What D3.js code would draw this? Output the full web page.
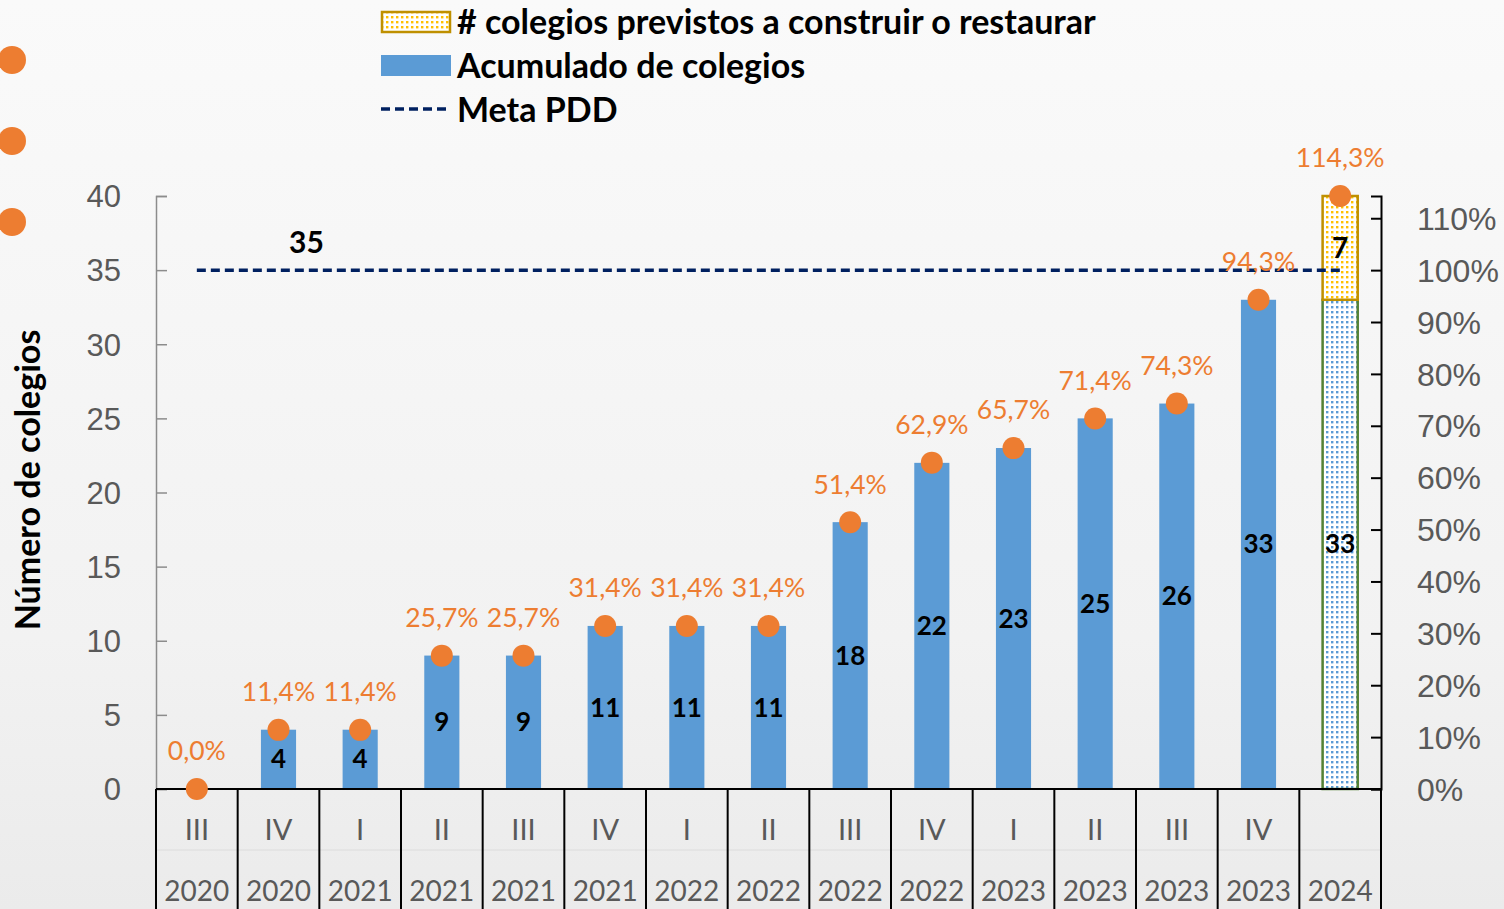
<!DOCTYPE html>
<html>
<head>
<meta charset="utf-8">
<script src="https://cdn.jsdelivr.net/npm/d3@7"></script>
<style>
  body { margin: 0; background: #f4f4f4; }
  svg { display: block; font-family: Lato, "Open Sans", sans-serif; }
</style>
</head>
<body>
<div class="graph"></div>
<script>
// data
const quarters = ['III', 'IV', 'I', 'II', 'III', 'IV', 'I', 'II', 'III', 'IV', 'I', 'II', 'III', 'IV', ''];
const years = ['2020', '2020', '2021', '2021', '2021', '2021', '2022', '2022', '2022', '2022', '2023', '2023', '2023', '2023', '2024'];
const acumulado = [0, 4, 4, 9, 9, 11, 11, 11, 18, 22, 23, 25, 26, 33, 33];
const previstos = [0, 0, 0, 0, 0, 0, 0, 0, 0, 0, 0, 0, 0, 0, 7];
const avance = [0.0, 11.4, 11.4, 25.7, 25.7, 31.4, 31.4, 31.4, 51.4, 62.9, 65.7, 71.4, 74.3, 94.3, 114.3];
const metaPDD = 35;
const leftTicks = [0, 5, 10, 15, 20, 25, 30, 35, 40];
const rightTicks = [0, 10, 20, 30, 40, 50, 60, 70, 80, 90, 100, 110];

const orange = '#ED7D31', blue = '#5B9BD5', navy = '#002060', grey = '#595959';

const svgDim = { w: 1504, h: 909, left: 156, right: 1381, top: 196, bottom: 789 }

const svg = d3.select('.graph')
    .append('svg')
    .attr('width', svgDim.w)
    .attr('height', svgDim.h);

const defs = svg.append('defs');
const bg = defs.append('linearGradient').attr('id', 'bg').attr('x1', 0).attr('x2', 0).attr('y1', 0).attr('y2', 1);
bg.append('stop').attr('offset', '0%').attr('stop-color', '#fafafa');
bg.append('stop').attr('offset', '70%').attr('stop-color', '#f2f2f2');
bg.append('stop').attr('offset', '100%').attr('stop-color', '#ebebeb');

// dotted fills
const makeDots = (id, color) => {
    const p = defs.append('pattern').attr('id', id)
        .attr('width', 5).attr('height', 5).attr('patternUnits', 'userSpaceOnUse');
    p.append('rect').attr('width', 5).attr('height', 5).attr('fill', '#ffffff');
    p.append('rect').attr('x', 1).attr('y', 1).attr('width', 2.4).attr('height', 2.4).attr('fill', color);
}
makeDots('dotsYellow', '#FFC000');
makeDots('dotsBlue', blue);

svg.append('rect').attr('width', svgDim.w).attr('height', svgDim.h).attr('fill', 'url(#bg)');

// decorative dots at left edge
svg.selectAll('circle.deco')
    .data([60, 141, 222])
    .enter()
    .append('circle')
    .attr('class', 'deco')
    .attr('cx', 12).attr('cy', d => d).attr('r', 14)
    .attr('fill', orange);

const xScale = d3.scaleBand()
    .domain(d3.range(quarters.length))
    .range([svgDim.left, svgDim.right])
    .paddingInner(0.57)
    .paddingOuter(0.285);

const yScale = d3.scaleLinear()
    .domain([0, 40])
    .range([svgDim.bottom, svgDim.top]);

const yPct = d3.scaleLinear()
    .domain([0, 40 / metaPDD * 100])
    .range([svgDim.bottom, svgDim.top]);

const step = xScale.step();
const cx = i => xScale(i) + xScale.bandwidth() / 2;

// left axis
const yAxis = d3.axisLeft(yScale).tickValues(leftTicks).tickSize(-11).tickPadding(35);
const gy = svg.append('g')
    .attr('transform', `translate(${svgDim.left},0)`)
    .call(yAxis);
gy.select('.domain').attr('stroke', '#8c8c8c').attr('stroke-width', 1.5);
gy.selectAll('.tick line').attr('stroke', '#8c8c8c').attr('stroke-width', 1.5);
gy.selectAll('.tick text').attr('fill', grey).style('font-size', '31px').attr('dy', '0.35em');

// right axis
const yAxisR = d3.axisRight(yPct).tickValues(rightTicks).tickSize(-10).tickPadding(36)
    .tickFormat(d => d + '%');
const gr = svg.append('g')
    .attr('transform', `translate(${svgDim.right},0)`)
    .call(yAxisR);
gr.select('.domain').attr('stroke', '#000').attr('stroke-width', 2);
gr.selectAll('.tick line').attr('stroke', '#000').attr('stroke-width', 2);
gr.selectAll('.tick text').attr('fill', grey).style('font-size', '32px').attr('dy', '0.35em');

// category table under the plot
const gx = svg.append('g');
gx.append('line')
    .attr('x1', svgDim.left).attr('x2', svgDim.right)
    .attr('y1', 850).attr('y2', 850)
    .attr('stroke', '#dcdcdc').attr('stroke-width', 1);
gx.selectAll('line.sep')
    .data(d3.range(quarters.length + 1))
    .enter()
    .append('line')
    .attr('class', 'sep')
    .attr('x1', i => svgDim.left + i * step)
    .attr('x2', i => svgDim.left + i * step)
    .attr('y1', svgDim.bottom).attr('y2', svgDim.h)
    .attr('stroke', '#000').attr('stroke-width', 2);
gx.selectAll('text.q')
    .data(quarters)
    .enter()
    .append('text')
    .attr('class', 'q')
    .attr('x', (d, i) => cx(i))
    .attr('y', 840)
    .attr('text-anchor', 'middle')
    .attr('fill', grey)
    .style('font-size', '29px')
    .text(d => d);
gx.selectAll('text.yr')
    .data(years)
    .enter()
    .append('text')
    .attr('class', 'yr')
    .attr('x', (d, i) => cx(i))
    .attr('y', 901)
    .attr('text-anchor', 'middle')
    .attr('fill', grey)
    .style('font-size', '28px')
    .text(d => d);

// bars
const bars = svg.append('g');
acumulado.forEach((v, i) => {
    const hatched = previstos[i] > 0;
    bars.append('rect')
        .attr('x', xScale(i))
        .attr('y', yScale(v))
        .attr('width', xScale.bandwidth())
        .attr('height', yScale(0) - yScale(v))
        .attr('fill', hatched ? 'url(#dotsBlue)' : blue)
        .attr('stroke', hatched ? '#548235' : 'none')
        .attr('stroke-width', hatched ? 2.5 : 0);
    if (previstos[i] > 0) {
        bars.append('rect')
            .attr('x', xScale(i))
            .attr('y', yScale(v + previstos[i]))
            .attr('width', xScale.bandwidth())
            .attr('height', yScale(v) - yScale(v + previstos[i]))
            .attr('fill', 'url(#dotsYellow)')
            .attr('stroke', '#BF9000')
            .attr('stroke-width', 2.5);
    }
});

// baseline
svg.append('line')
    .attr('x1', svgDim.left).attr('x2', svgDim.right)
    .attr('y1', svgDim.bottom).attr('y2', svgDim.bottom)
    .attr('stroke', '#000').attr('stroke-width', 2);

// meta line
svg.append('line')
    .attr('x1', cx(0)).attr('x2', cx(quarters.length - 1))
    .attr('y1', yScale(metaPDD)).attr('y2', yScale(metaPDD))
    .attr('stroke', navy).attr('stroke-width', 3.5)
    .attr('stroke-dasharray', '9,5');
svg.append('text')
    .attr('x', cx(1) + 28)
    .attr('y', yScale(metaPDD) - 17)
    .attr('text-anchor', 'middle')
    .attr('font-weight', 'bold')
    .style('font-size', '30px')
    .text(metaPDD);

// value labels inside bars
const labels = svg.append('g');
acumulado.forEach((v, i) => {
    if (v > 0) {
        labels.append('text')
            .attr('x', cx(i))
            .attr('y', yScale(v / 2))
            .attr('dy', '0.35em')
            .attr('text-anchor', 'middle')
            .attr('font-weight', 'bold')
            .style('font-size', '26px')
            .text(v);
    }
    if (previstos[i] > 0) {
        labels.append('text')
            .attr('x', cx(i))
            .attr('y', yScale(v + previstos[i] / 2))
            .attr('dy', '0.35em')
            .attr('text-anchor', 'middle')
            .attr('font-weight', 'bold')
            .style('font-size', '28px')
            .text(previstos[i]);
    }
});

// percentage dots
const fmtPct = d => d.toFixed(1).replace('.', ',') + '%';
svg.append('g').selectAll('circle')
    .data(avance)
    .enter()
    .append('circle')
    .attr('cx', (d, i) => cx(i))
    .attr('cy', d => yPct(d))
    .attr('r', 11)
    .attr('fill', orange);
svg.append('g').selectAll('text')
    .data(avance)
    .enter()
    .append('text')
    .attr('x', (d, i) => cx(i))
    .attr('y', d => yPct(d) - 38)
    .attr('dy', '0.35em')
    .attr('text-anchor', 'middle')
    .attr('fill', orange)
    .style('font-size', '26.5px')
    .text(fmtPct);

// legend
const legend = svg.append('g');
legend.append('rect').attr('x', 382).attr('y', 12).attr('width', 68).attr('height', 20)
    .attr('fill', 'url(#dotsYellow)').attr('stroke', '#BF9000').attr('stroke-width', 2.5);
legend.append('rect').attr('x', 381).attr('y', 55).attr('width', 70).attr('height', 21)
    .attr('fill', blue);
legend.append('line').attr('x1', 381).attr('x2', 451).attr('y1', 109).attr('y2', 109)
    .attr('stroke', navy).attr('stroke-width', 3.5).attr('stroke-dasharray', '9,5');
legend.selectAll('text')
    .data(['# colegios previstos a construir o restaurar', 'Acumulado de colegios', 'Meta PDD'])
    .enter()
    .append('text')
    .attr('x', 457)
    .attr('y', (d, i) => 22 + i * 44)
    .attr('dy', '0.35em')
    .attr('font-weight', 'bold')
    .style('font-size', '34px')
    .text(d => d);

// y axis title
svg.append('text')
    .attr('transform', `translate(40,480) rotate(-90)`)
    .attr('text-anchor', 'middle')
    .attr('font-weight', 'bold')
    .style('font-size', '34px')
    .text('Número de colegios');
</script>
</body>
</html>
